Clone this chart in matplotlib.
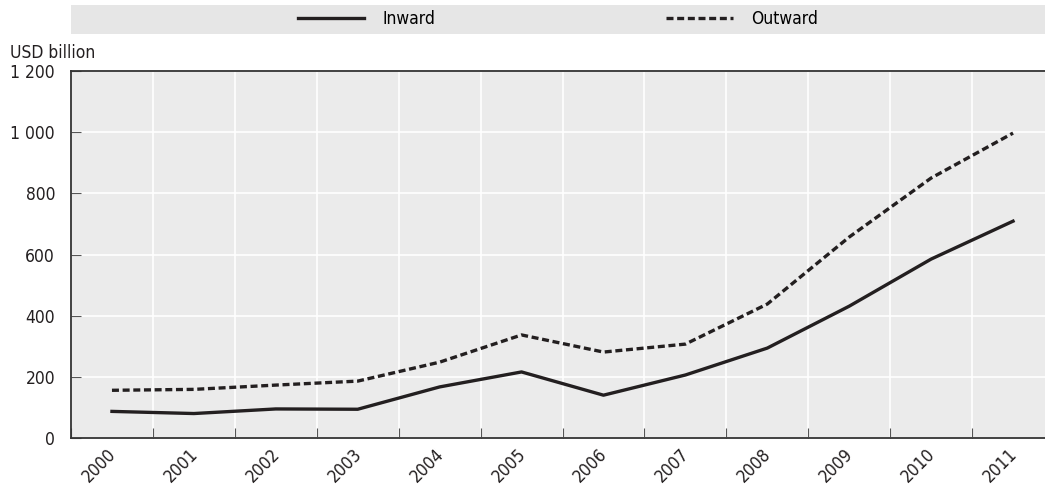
import numpy as np
import matplotlib.pyplot as plt
import matplotlib.transforms as mtransforms
from matplotlib.ticker import FuncFormatter

years = ['2000', '2001', '2002', '2003', '2004', '2005',
         '2006', '2007', '2008', '2009', '2010', '2011']
inward = [87, 80, 95, 94, 167, 216, 140, 206, 294, 431, 585, 709]
outward = [156, 159, 173, 186, 248, 337, 281, 307, 438, 657, 850, 997]

plt.rcParams['font.family'] = ['DejaVu Sans']
plt.rcParams['font.stretch'] = 'condensed'
plt.rcParams['font.size'] = 12.5

W, H = 1045, 488
fig = plt.figure(figsize=(W / 100, H / 100), dpi=100)

# plot area runs past the right edge, like the original
left, right, top, bottom = 71, 1054, 71, 438
ax = fig.add_axes([left / W, 1 - bottom / H, (right - left) / W, (bottom - top) / H])
ax.set_facecolor('#ebebeb')

x = np.arange(len(years))
l1, = ax.plot(x, inward, color='#231f20', lw=2.4, label='Inward')
l2, = ax.plot(x, outward, color='#231f20', lw=2.4, ls=(0, (2.1, 1.1)), label='Outward')

ax.set_xlim(-0.5, len(years) - 0.5)
ax.set_ylim(0, 1200)
ax.set_yticks(np.arange(0, 1201, 200))
ax.yaxis.set_major_formatter(FuncFormatter(lambda v, p: f'{int(v):,}'.replace(',', ' ')))

ax.set_xticks(np.arange(-0.5, len(years) + 0.5, 1))
ax.set_xticklabels([])
ax.set_xticks(x, minor=True)
ax.set_xticklabels(years, minor=True, rotation=45, ha='right', va='top',
                   rotation_mode='anchor')
ax.tick_params(axis='x', which='minor', length=0, pad=5, colors='#231f20')
ax.tick_params(axis='x', which='major', direction='in', length=7, color='#555555')
ax.tick_params(axis='y', direction='in', length=7, color='#555555', pad=11.5,
               labelcolor='#231f20')
shift = mtransforms.ScaledTranslation(-5 / 100, 0, fig.dpi_scale_trans)
for lab in ax.get_xticklabels(minor=True):
    lab.set_transform(lab.get_transform() + shift)

ax.grid(True, which='major', color='white', lw=1.2)
ax.set_axisbelow(True)
for s in ['left', 'bottom', 'top']:
    ax.spines[s].set_color('#333333')
    ax.spines[s].set_linewidth(1.3)
ax.spines['right'].set_visible(False)

fig.text(10 / W, 1 - 53 / H, 'USD billion', ha='left', va='center', color='#231f20')

# legend band
lax = fig.add_axes([71 / W, 1 - 34 / H, (W - 71) / W, 29 / H])
lax.set_facecolor('#e6e6e6')
lax.set_xticks([])
lax.set_yticks([])
for s in lax.spines.values():
    s.set_visible(False)
lax.legend(handles=[l1, l2], loc='center', ncol=2, frameon=False,
           handlelength=3.85, columnspacing=13.3, handletextpad=1.05,
           borderaxespad=0)

fig.savefig('out.png', dpi=100)
